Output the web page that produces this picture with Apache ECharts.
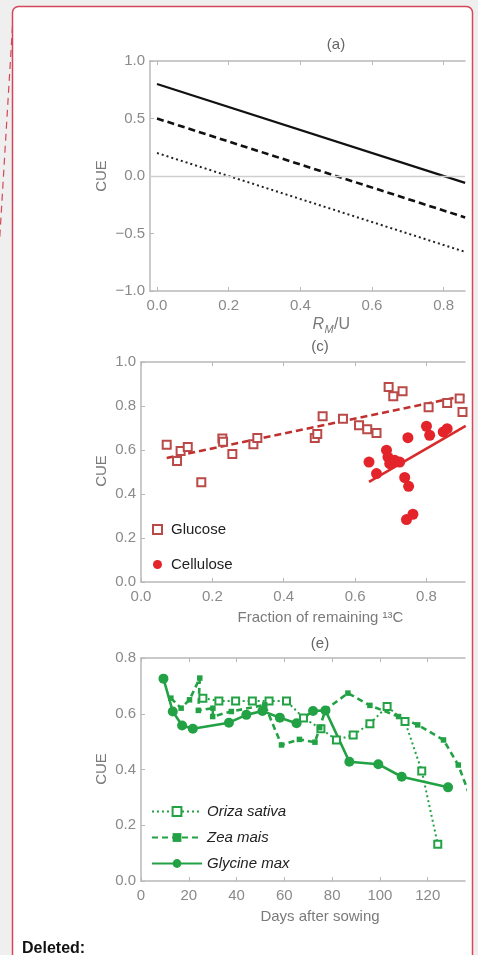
<!DOCTYPE html>
<html><head><meta charset="utf-8">
<script src="https://cdn.jsdelivr.net/npm/echarts@6/dist/echarts.min.js"></script>
<style>html,body{margin:0;padding:0;background:#efefef;} #c{width:478px;height:955px;}</style>
</head><body><div id="c"></div>
<script>
// ---------- Panel (a) ----------
const aRmU = [0, 0.86];
const aSolid = [0.8, -0.06];
const aDashed = [0.5, -0.36];
const aDotted = [0.2, -0.66];
const aXTicks = [0, 0.2, 0.4, 0.6, 0.8];

// ---------- Panel (c) ----------
const glucose = [[0.072,0.624],[0.101,0.55],[0.111,0.595],[0.131,0.614],[0.169,0.453],[0.228,0.652],[0.23,0.638],[0.256,0.582],[0.315,0.626],[0.326,0.655],[0.487,0.655],[0.494,0.673],[0.509,0.753],[0.566,0.742],[0.611,0.713],[0.634,0.694],[0.66,0.677],[0.694,0.886],[0.707,0.844],[0.733,0.867],[0.806,0.794],[0.858,0.814],[0.893,0.834],[0.901,0.773]];
const cellulose = [[0.639,0.545],[0.66,0.493],[0.688,0.599],[0.692,0.568],[0.697,0.538],[0.705,0.545],[0.711,0.553],[0.725,0.545],[0.748,0.656],[0.739,0.475],[0.75,0.435],[0.744,0.284],[0.762,0.308],[0.8,0.708],[0.809,0.667],[0.847,0.682],[0.858,0.697]];
const glucoseFit = [[0.072,0.564],[0.91,0.848]];
const celluloseFit = [[0.639,0.455],[0.91,0.71]];
const cXTicks = [0, 0.2, 0.4, 0.6, 0.8];

// ---------- Panel (e) ----------
const oriza = [[25.9,0.656],[32.6,0.646],[39.6,0.646],[46.6,0.646],[53.6,0.646],[60.9,0.646],[68,0.585],[75.3,0.546],[81.8,0.506],[88.8,0.524],[95.8,0.564],[103,0.626],[110.5,0.572],[117.5,0.395],[124.2,0.132]];
const zea = [[12.5,0.656],[16.8,0.62],[20.3,0.65],[24.6,0.728],[24.0,0.612],[30.1,0.62],[30.0,0.59],[37.8,0.608],[51.8,0.632],[58.8,0.488],[66.3,0.508],[72.8,0.498],[74.8,0.55],[77.2,0.614],[86.6,0.674],[95.8,0.63],[107.8,0.59],[115.8,0.56],[126.6,0.506],[132.8,0.416],[137,0.32]];
const glycine = [[9.4,0.726],[13.3,0.608],[17.2,0.558],[21.7,0.546],[36.8,0.568],[44.1,0.596],[50.8,0.61],[58.1,0.586],[65.1,0.566],[72.0,0.61],[77.2,0.612],[87.2,0.428],[99.3,0.419],[109.1,0.374],[128.5,0.336]];
const eXTicks = [0, 20, 40, 60, 80, 100, 120];

const AX = '#b8b8b8', LBL = '#8a8a8a', NAME = '#7a7a7a', FONT = 'Liberation Sans, Arial, sans-serif';
const RED_BOX = '#d4475a', GREEN = '#22a244';

function fmt1(v) { return v < 0 ? '\u2212' + Math.abs(v).toFixed(1) : v.toFixed(1); }
function fmt0(v) { return String(Math.round(v)); }

function xAxes(grid, min, max, ticks, fmt) {
  const tick = {show: true, inside: true, length: 4, lineStyle: {color: AX}, customValues: ticks};
  return [
    {type: 'value', gridIndex: grid, position: 'bottom', min: min, max: max,
     axisLine: {show: true, onZero: false, lineStyle: {color: AX, width: 1.5}},
     axisTick: tick,
     axisLabel: {customValues: ticks, formatter: fmt, color: LBL, fontSize: 15, fontFamily: FONT, margin: 7},
     splitLine: {show: false}},
    {type: 'value', gridIndex: grid, position: 'top', min: min, max: max,
     axisLine: {show: true, onZero: false, lineStyle: {color: AX, width: 1.5}},
     axisTick: tick, axisLabel: {show: false}, splitLine: {show: false}}
  ];
}
function yAxis(grid, min, max, interval) {
  return {type: 'value', gridIndex: grid, min: min, max: max, interval: interval,
    axisLine: {show: true, onZero: false, lineStyle: {color: AX, width: 1.5}},
    axisTick: {show: true, inside: true, length: 4, lineStyle: {color: AX}},
    axisLabel: {formatter: fmt1, color: LBL, fontSize: 15, fontFamily: FONT, margin: 5},
    splitLine: {show: false}};
}
function pairs(xs, ys) { return xs.map((x, i) => [x, ys[i]]); }

const txt = (x, y, text, extra) => Object.assign({type: 'text', x: x, y: y, z: 50,
  style: Object.assign({text: text, fill: NAME, font: '15px ' + FONT, align: 'center', verticalAlign: 'middle'}, extra || {})});

const option = {
  backgroundColor: '#efefef',
  animation: false,
  grid: [
    {left: 150, top: 61, width: 315, height: 230},
    {left: 141, top: 362, width: 324, height: 220},
    {left: 141, top: 658, width: 324, height: 223}
  ],
  xAxis: [].concat(
    xAxes(0, -0.0195, 0.8596, aXTicks, fmt1),
    xAxes(1, 0, 0.908, cXTicks, fmt1),
    xAxes(2, 0, 135.6, eXTicks, fmt0)
  ),
  yAxis: [yAxis(0, -1, 1, 0.5), yAxis(1, 0, 1, 0.2), yAxis(2, 0, 0.8, 0.2)],
  legend: [
    {data: ['Glucose', 'Cellulose'], orient: 'vertical', left: 152, top: 522, padding: 0,
     itemWidth: 9, itemHeight: 9, itemGap: 20, selectedMode: false,
     textStyle: {fontSize: 15, color: '#222', fontFamily: FONT, padding: [0, 0, 0, 4]}},
    {data: ['Oriza sativa', 'Zea mais', 'Glycine max'], orient: 'vertical', left: 151, top: 804, padding: 0,
     itemWidth: 50, itemHeight: 11, itemGap: 11, selectedMode: false,
     textStyle: {fontSize: 15, color: '#222', fontStyle: 'italic', fontFamily: FONT}}
  ],
  series: [
    // (a)
    {name: 'e0.8', type: 'line', xAxisIndex: 0, yAxisIndex: 0, data: pairs(aRmU, aSolid), symbol: 'none',
     lineStyle: {color: '#111', width: 2.2},
     markLine: {silent: true, symbol: ['none', 'none'], label: {show: false},
       lineStyle: {color: '#cfcfcf', type: 'solid', width: 1.3}, data: [{yAxis: 0}]}},
    {name: 'e0.5', type: 'line', xAxisIndex: 0, yAxisIndex: 0, data: pairs(aRmU, aDashed), symbol: 'none',
     lineStyle: {color: '#111', width: 2.6, type: [7, 4]}},
    {name: 'e0.2', type: 'line', xAxisIndex: 0, yAxisIndex: 0, data: pairs(aRmU, aDotted), symbol: 'none',
     lineStyle: {color: '#222', width: 2, type: [2, 3]}},
    // (c)
    {name: 'GlucoseFit', type: 'line', xAxisIndex: 2, yAxisIndex: 1, data: glucoseFit, symbol: 'none',
     lineStyle: {color: '#c0302f', width: 2.6, type: [7, 4]}, z: 2},
    {name: 'CelluloseFit', type: 'line', xAxisIndex: 2, yAxisIndex: 1, data: celluloseFit, symbol: 'none',
     lineStyle: {color: '#d92b2b', width: 2.6}, z: 2},
    {name: 'Glucose', type: 'scatter', xAxisIndex: 2, yAxisIndex: 1, data: glucose, symbol: 'emptyRect', symbolSize: 8,
     itemStyle: {color: '#b94a48', borderWidth: 1.2, opacity: 1}, z: 3},
    {name: 'Cellulose', type: 'scatter', xAxisIndex: 2, yAxisIndex: 1, data: cellulose, symbol: 'circle', symbolSize: 11,
     itemStyle: {color: '#e3242b', opacity: 1}, z: 4},
    // (e)
    {name: 'Oriza sativa', type: 'line', xAxisIndex: 4, yAxisIndex: 2, data: oriza, symbol: 'emptyRect', symbolSize: 7,
     itemStyle: {color: GREEN, borderWidth: 1.1}, lineStyle: {color: GREEN, width: 2, type: [2, 3]}},
    {name: 'Zea mais', type: 'line', xAxisIndex: 4, yAxisIndex: 2, data: zea, symbol: 'rect', symbolSize: 5.5,
     itemStyle: {color: GREEN}, lineStyle: {color: GREEN, width: 2.6, type: [6, 4]}},
    {name: 'Glycine max', type: 'line', xAxisIndex: 4, yAxisIndex: 2, data: glycine, symbol: 'circle', symbolSize: 10,
     itemStyle: {color: GREEN}, lineStyle: {color: GREEN, width: 2.6}}
  ],
  graphic: [
    {type: 'rect', z: -5, shape: {x: 12.5, y: 6.5, width: 460, height: 1000, r: 6},
     style: {fill: '#fff', stroke: RED_BOX, lineWidth: 1.5}},
    {type: 'line', z: 60, shape: {x1: 12.5, y1: 26, x2: -1, y2: 250},
     style: {stroke: RED_BOX, lineWidth: 1.2, lineDash: [7, 5]}},
    txt(336, 45, '(a)', {fill: '#666'}),
    txt(320, 347, '(c)', {fill: '#666'}),
    txt(320, 644, '(e)', {fill: '#666'}),
    txt(102, 176, 'CUE', {}), txt(102, 471, 'CUE', {}), txt(102, 769, 'CUE', {}),
    txt(324, 325, 'R', {font: 'italic 16px ' + FONT, align: 'right'}),
    txt(324.5, 329.5, 'M', {font: 'italic 11px ' + FONT, align: 'left'}),
    txt(334, 325, '/U', {font: '16px ' + FONT, align: 'left'}),
    txt(320.5, 618, 'Fraction of remaining \u00B9\u00B3C', {}),
    txt(320, 917, 'Days after sowing', {}),
    txt(22, 949, 'Deleted:', {font: 'bold 16px ' + FONT, fill: '#111', align: 'left'})
  ]
};
// rotate the CUE labels
option.graphic.forEach(g => { if (g.style && g.style.text === 'CUE') g.rotation = Math.PI / 2; });

const chart = echarts.init(document.getElementById('c'), null, {renderer: 'canvas', width: 478, height: 955});
chart.setOption(option);
</script>
</body></html>
